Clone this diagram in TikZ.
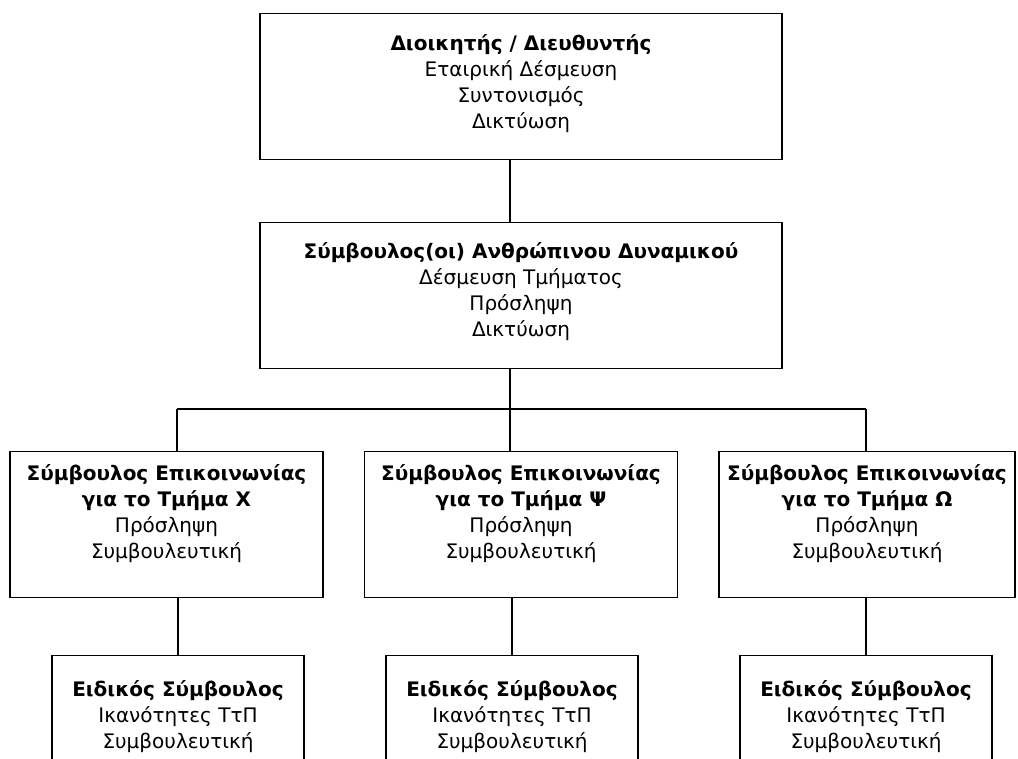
\documentclass[tikz,border=0pt]{standalone}
\usepackage{fontspec}
\setmainfont{DejaVu Sans}
\begin{document}
\begin{tikzpicture}[x=0.75pt,y=-0.75pt,
    orgbox/.style={draw,line width=1.1pt,inner sep=0pt,align=center,anchor=north,
        font=\fontsize{15pt}{19.5pt}\selectfont},
    headbox/.style={orgbox,minimum width=391.5pt,text height=109.5pt-#1,text depth=#1},
    commbox/.style={orgbox,minimum width=234.75pt,text height=80.25pt,text depth=29.25pt},
    specbox/.style={orgbox,minimum width=189pt,text height=69.75pt,text depth=27.75pt},
    link/.style={line width=1.1pt}]
    \useasboundingbox (0,0) rectangle (1018,758);
    \clip (0,0) rectangle (1018,758);

    \node[headbox=23.25pt] (dir) at (521,13)
        {\textbf{Διοικητής / Διευθυντής}\\Εταιρική Δέσμευση\\Συντονισμός\\Δικτύωση};
    \node[headbox=24pt] (hr) at (521,222)
        {\textbf{Σύμβουλος(οι) Ανθρώπινου Δυναμικού}\\Δέσμευση Τμήματος\\Πρόσληψη\\Δικτύωση};

    \coordinate (jx) at (177,409);
    \coordinate (jy) at (510,409);
    \coordinate (jz) at (866,409);

    \node[commbox] (commx) at (166.5,451)
        {\textbf{Σύμβουλος Επικοινωνίας}\\\textbf{για το Τμήμα Χ}\\Πρόσληψη\\Συμβουλευτική};
    \node[commbox] (commy) at (521,451)
        {\textbf{Σύμβουλος Επικοινωνίας}\\\textbf{για το Τμήμα Ψ}\\Πρόσληψη\\Συμβουλευτική};
    \node[commbox,minimum width=222pt] (commz) at (867,451)
        {\textbf{Σύμβουλος Επικοινωνίας}\\\textbf{για το Τμήμα Ω}\\Πρόσληψη\\Συμβουλευτική};

    \foreach \name/\xpos in {specx/178,specy/512,specz/866}
        \node[specbox] (\name) at (\xpos,655)
            {\textbf{Ειδικός Σύμβουλος}\\Ικανότητες ΤτΠ\\Συμβουλευτική};

    \draw[link] (dir.south -| jy) -- (hr.north -| jy);
    \draw[link] (hr.south -| jy) -- (jy);
    \draw[link] (jx) -- (jz);
    \foreach \j/\c/\s in {jx/commx/specx,jy/commy/specy,jz/commz/specz} {
        \draw[link] (\j) -- (\c.north -| \j);
        \draw[link] (\c.south -| \s.north) -- (\s.north);
    }
\end{tikzpicture}
\end{document}
